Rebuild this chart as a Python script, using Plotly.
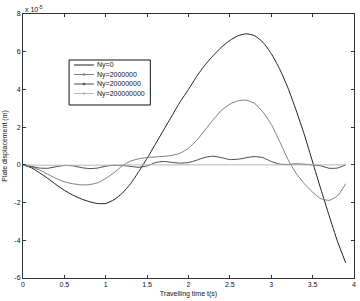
import plotly.graph_objects as go

# ---- data (displacement in units of 1e-5 m) ----
t = [0.0, 0.1, 0.2, 0.3, 0.4, 0.5, 0.6, 0.7, 0.8, 0.9,
     1.0, 1.1, 1.2, 1.3, 1.4, 1.5, 1.6, 1.7, 1.8, 1.9,
     2.0, 2.1, 2.2, 2.3, 2.4, 2.5, 2.6, 2.7, 2.8, 2.9,
     3.0, 3.1, 3.2, 3.3, 3.4, 3.5, 3.6, 3.7, 3.8, 3.9]

ny_0 = [0.0, -0.15, -0.42, -0.72, -1.05, -1.35, -1.6, -1.8, -1.95, -2.05,
        -2.05, -1.85, -1.5, -1.0, -0.35, 0.35, 1.1, 1.85, 2.6, 3.35,
        4.0, 4.7, 5.3, 5.8, 6.25, 6.6, 6.85, 6.95, 6.85, 6.5,
        5.9, 5.1, 4.1, 2.9, 1.6, 0.15, -1.3, -2.7, -4.05, -5.2]

ny_2e6 = [0.0, -0.1, -0.27, -0.5, -0.72, -0.9, -1.0, -1.06, -1.05, -0.95,
          -0.72, -0.42, -0.05, 0.2, 0.32, 0.39, 0.42, 0.45, 0.5, 0.62,
          0.88, 1.3, 1.85, 2.4, 2.9, 3.22, 3.4, 3.43, 3.25, 2.8,
          2.15, 1.25, 0.3, -0.45, -1.0, -1.45, -1.8, -1.88, -1.65, -1.0]

ny_2e7 = [0.0, -0.08, -0.17, -0.18, -0.1, -0.03, -0.05, -0.14, -0.2, -0.17,
          -0.07, -0.02, -0.03, -0.08, -0.13, -0.05, 0.12, 0.18, 0.13, 0.09,
          0.12, 0.25, 0.4, 0.46, 0.38, 0.28, 0.3, 0.38, 0.44, 0.38,
          0.18, 0.04, 0.02, 0.05, 0.03, 0.0, -0.05, -0.18, -0.17, 0.0]

ny_2e8 = [0.0, -0.01, -0.02, -0.02, -0.02, -0.02, -0.02, -0.02, -0.02, -0.02,
          -0.02, -0.01, -0.01, 0.0, 0.0, 0.0, 0.0, 0.0, 0.0, 0.0,
          0.0, 0.0, 0.0, 0.0, 0.0, 0.0, 0.0, 0.0, 0.0, 0.0,
          0.0, 0.0, 0.0, 0.0, 0.0, 0.0, 0.0, 0.0, 0.0, 0.0]

series_names = ["Ny=0", "Ny=2000000", "Ny=20000000", "Ny=200000000"]
series_values = [ny_0, ny_2e6, ny_2e7, ny_2e8]

x_ticks = [0, 0.5, 1, 1.5, 2, 2.5, 3, 3.5, 4]
x_tick_labels = ["0", "0.5", "1", "1.5", "2", "2.5", "3", "3.5", "4"]
y_ticks = [-6, -4, -2, 0, 2, 4, 6, 8]
y_tick_labels = ["-6", "-4", "-2", "0", "2", "4", "6", "8"]

# ---- style ----
colors = ["#1e1e1e", "#7d7d7d", "#4a4a4a", "#b4b4b4"]
has_marker = [False, True, True, True]
FONT = "Liberation Sans, Arial, sans-serif"

W, H = 360, 301
ML, MR, MT, MB = 22, 4, 14, 23
PW, PH = W - ML - MR, H - MT - MB


def px(xpix):
    return (xpix - ML) / PW


def py(ypix):
    return 1 - (ypix - MT) / PH


fig = go.Figure()
for name, vals, col in zip(series_names, series_values, colors):
    fig.add_trace(go.Scatter(
        x=t, y=vals, name=name, mode="lines",
        line=dict(color=col, width=1, shape="spline", smoothing=0.5),
        showlegend=False, hoverinfo="skip"))

# ---- manual legend (matching compact MATLAB legend box) ----
shapes = []
annotations = []
shapes.append(dict(type="rect", xref="paper", yref="paper",
                   x0=px(68.5), x1=px(150.5), y0=py(105), y1=py(60),
                   line=dict(color="#111111", width=1), fillcolor="white", layer="above"))
row_pix = [65, 74.5, 84, 93.5]
for name, col, mk, rp in zip(series_names, colors, has_marker, row_pix):
    shapes.append(dict(type="line", xref="paper", yref="paper",
                       x0=px(73.5), x1=px(93.5), y0=py(rp), y1=py(rp),
                       line=dict(color=col, width=1), layer="above"))
    if mk:
        shapes.append(dict(type="circle", xref="paper", yref="paper",
                           x0=px(82.5), x1=px(84.5), y0=py(rp + 1), y1=py(rp - 1),
                           line=dict(color=col, width=0.5), fillcolor=col, layer="above"))
    annotations.append(dict(xref="paper", yref="paper", x=px(95), y=py(rp),
                            xanchor="left", yanchor="middle", text=name, showarrow=False,
                            font=dict(size=7, color="#111111", family=FONT)))

# exponent label
annotations.append(dict(xref="paper", yref="paper", x=0, y=1, xanchor="left", yanchor="bottom",
                        text="x 10<sup>-5</sup>", showarrow=False, yshift=-1,
                        font=dict(size=7, color="#111111", family=FONT)))

axis_common = dict(showgrid=False, zeroline=False, showline=True, linecolor="#333333",
                   linewidth=1, mirror="ticks", ticks="inside", ticklen=3,
                   tickcolor="#333333", tickwidth=1,
                   tickfont=dict(size=7, color="#111111", family=FONT))

fig.update_layout(
    width=W, height=H,
    margin=dict(l=ML, r=MR, t=MT, b=MB),
    paper_bgcolor="white", plot_bgcolor="white",
    shapes=shapes, annotations=annotations,
    xaxis=dict(range=[0, 4], tickvals=x_ticks, ticktext=x_tick_labels,
               title=dict(text="Travelling time t(s)", standoff=3,
                          font=dict(size=7, color="#111111", family=FONT)),
               **axis_common),
    yaxis=dict(range=[-6, 8], tickvals=y_ticks, ticktext=y_tick_labels,
               title=dict(text="Plate displacement (m)", standoff=5,
                          font=dict(size=7, color="#111111", family=FONT)),
               **axis_common),
)

fig.write_html("out.html")
